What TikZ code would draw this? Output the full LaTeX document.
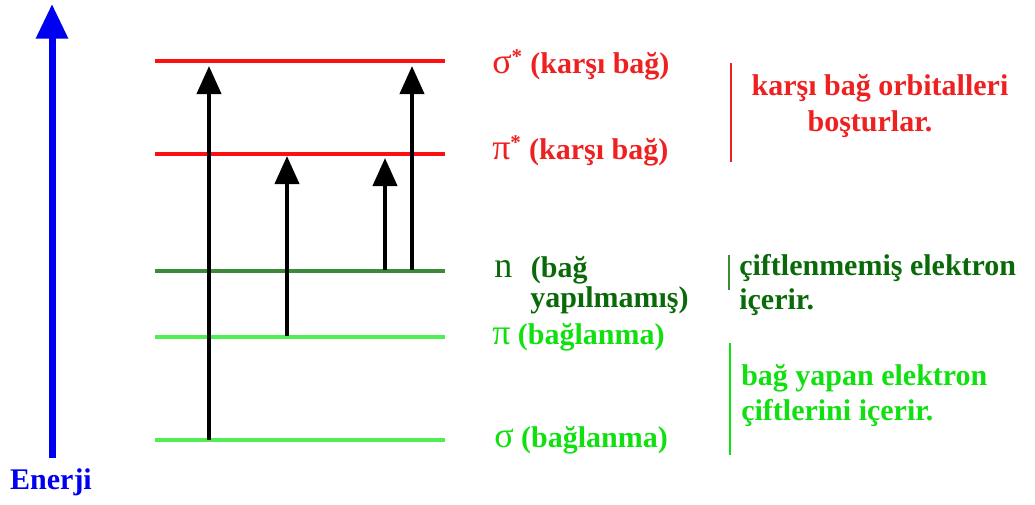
\documentclass[tikz,border=0pt]{standalone}
\usepackage{fontspec}
\setmainfont{Liberation Serif}
\usetikzlibrary{arrows.meta}
\definecolor{lvred}{HTML}{FF1010}
\definecolor{txred}{HTML}{EE2020}
\definecolor{lvdg}{HTML}{3A8A3A}
\definecolor{txdg}{HTML}{0A6A0A}
\definecolor{lvlg}{HTML}{50EE50}
\definecolor{txlg}{HTML}{10E010}
\definecolor{enblue}{HTML}{0000F0}
\newcommand{\gk}[1]{{\fontsize{27}{27}\selectfont\mdseries #1}}
\tikzset{
  level/.style={line width=3pt},
  trans/.style={line width=3pt, -{Triangle[length=21pt,width=18pt]}},
  lbl/.style={anchor=west, inner sep=0pt, font=\fontsize{22.5}{27}\selectfont\bfseries},
  bar/.style={line width=1.5pt},
}
\begin{document}
\begin{tikzpicture}[x=0.75pt,y=-0.75pt]
\useasboundingbox (0,0) rectangle (1035,504);
% energy axis
\coordinate (e0) at (52,458);
\coordinate (e1) at (52,4);
\draw[enblue, line width=5.25pt, -{Triangle[length=26pt,width=23pt]}] (e0) -- (e1);
\node[lbl, anchor=center, text=enblue] (enerji) at (51,482) {Enerji};
% levels
\draw[level, lvred] (155,61) coordinate (ss0) -- (445,61) coordinate (ss1);
\draw[level, lvred] (155,154) coordinate (ps0) -- (445,154) coordinate (ps1);
\draw[level, lvdg] (155,271) coordinate (n0) -- (445,271) coordinate (n1);
\draw[level, lvlg] (155,337) coordinate (p0) -- (445,337) coordinate (p1);
\draw[level, lvlg] (155,440) coordinate (s0) -- (445,440) coordinate (s1);
% transitions
\coordinate (a1s) at (209,440); \coordinate (a1e) at (209,66);
\coordinate (a2s) at (287,336); \coordinate (a2e) at (287,156);
\coordinate (a3s) at (385,270); \coordinate (a3e) at (385,158);
\coordinate (a4s) at (412,270); \coordinate (a4e) at (412,66);
\draw[trans] (a1s) -- (a1e);
\draw[trans] (a2s) -- (a2e);
\draw[trans] (a3s) -- (a3e);
\draw[trans] (a4s) -- (a4e);
% level labels
\node[lbl, text=txred] (lss) at (492,65) {\gk{σ}\textsuperscript{*} (karşı bağ)};
\node[lbl, text=txred] (lps) at (492,151) {\gk{π}\textsuperscript{*} (karşı bağ)};
\node[lbl, text=txdg] (ln) at (494,270) {\gk{n}\hspace{14pt}(bağ};
\node[lbl, text=txdg] (ln2) at (530,300) {yapılmamış)};
\node[lbl, text=txlg] (lp) at (492,337) {\gk{π} (bağlanma)};
\node[lbl, text=txlg] (ls) at (494,440) {\gk{σ} (bağlanma)};
% side notes
\draw[bar, txred] (731,63) coordinate (r0) -- (731,162) coordinate (r1);
\node[lbl, anchor=center, text=txred] (k1) at (880,88) {karşı bağ orbitalleri};
\node[lbl, anchor=center, text=txred] (k2) at (870,124) {boşturlar.};
\draw[bar, lvdg] (729,255) coordinate (g0) -- (729,290) coordinate (g1);
\node[lbl, text=txdg] (c1) at (739,268) {çiftlenmemiş elektron};
\node[lbl, text=txdg] (c2) at (739,302) {içerir.};
\draw[bar, txlg] (730,343) coordinate (h0) -- (730,455) coordinate (h1);
\node[lbl, text=txlg] (b1) at (741,378) {bağ yapan elektron};
\node[lbl, text=txlg] (b2) at (741,413) {çiftlerini içerir.};
\end{tikzpicture}
\end{document}
